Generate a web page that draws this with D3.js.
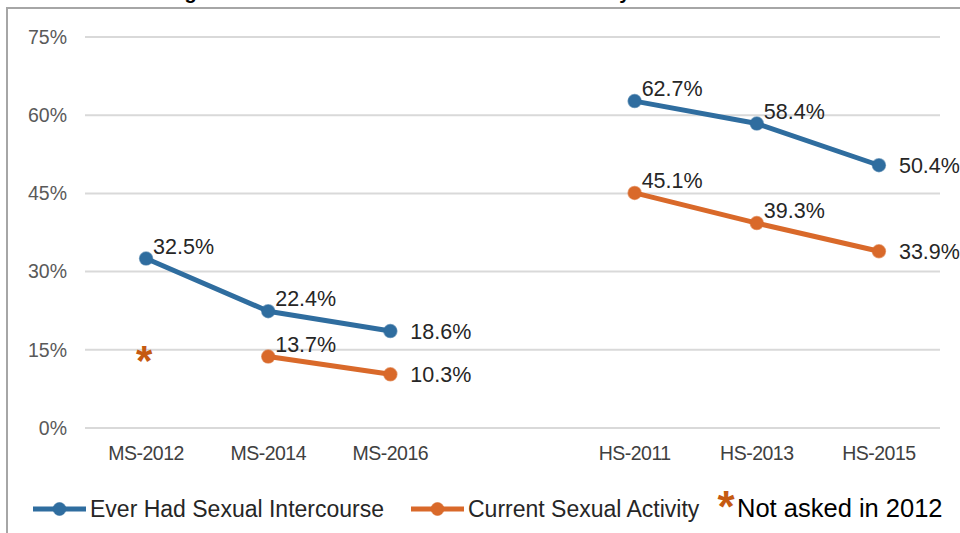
<!DOCTYPE html>
<html lang="en">
<head>
  <meta charset="utf-8">
  <title>Sexual intercourse and activity</title>
  <script src="https://d3js.org/d3.v7.min.js"></script>
  <style>
  body { margin: 0; background: #fff; }
  text { font-family: "Liberation Sans", Arial, sans-serif; }
  </style>
</head>
<body>
<script>
  var width = 960;
  var height = 533;

  // data
  var categories = ["MS-2012", "MS-2014", "MS-2016", "", "HS-2011", "HS-2013", "HS-2015"];
  var everHad = [32.5, 22.4, 18.6, null, 62.7, 58.4, 50.4];
  var current = [null, 13.7, 10.3, null, 45.1, 39.3, 33.9];
  var yTicks = [0, 15, 30, 45, 60, 75];
  var seriesNames = ["Ever Had Sexual Intercourse", "Current Sexual Activity"];
  var noteText = "Not asked in 2012";
  var titleText = "Percentage of Students Who Had Sex and Are Currently Active";

  var blue = "#2f6d9f";
  var orange = "#d9692a";

  var svg = d3.select("body")
    .append("svg")
    .attr("width", width)
    .attr("height", height);

  // title, mostly cut off above the frame as in the source image
  svg.append("text")
    .attr("x", 100)
    .attr("y", -1)
    .style("font-size", "20px")
    .style("font-weight", "bold")
    .attr("fill", "#000")
    .text(titleText);

  // frame
  svg.append("path")
    .attr("d", "M7,533V8H960")
    .attr("fill", "none")
    .attr("stroke", "#a6a6a6")
    .attr("stroke-width", 2);

  var x = d3.scaleBand()
    .domain(categories)
    .range([85, 940]);

  var y = d3.scaleLinear()
    .domain([0, 75])
    .range([428, 37]);

  // gridlines
  svg.append("g")
    .selectAll("line")
    .data(yTicks)
    .enter().append("line")
      .attr("x1", 85)
      .attr("x2", 940)
      .attr("y1", function(d) { return y(d); })
      .attr("y2", function(d) { return y(d); })
      .attr("stroke", "#d9d9d9")
      .attr("stroke-width", 2);

  // y labels
  svg.append("g")
    .selectAll("text")
    .data(yTicks)
    .enter().append("text")
      .attr("x", 67)
      .attr("y", function(d) { return y(d); })
      .attr("dy", "0.35em")
      .attr("text-anchor", "end")
      .attr("fill", "#595959")
      .style("font-size", "19.5px")
      .text(function(d) { return d + "%"; });

  // x labels
  svg.append("g")
    .selectAll("text")
    .data(categories)
    .enter().append("text")
      .attr("x", function(d) { return x(d) + x.bandwidth() / 2; })
      .attr("y", 453)
      .attr("dy", "0.35em")
      .attr("text-anchor", "middle")
      .attr("fill", "#404040")
      .style("font-size", "19.5px")
      .style("letter-spacing", "-0.5px")
      .text(function(d) { return d; });

  var cx = function(i) { return x(categories[i]) + x.bandwidth() / 2; };

  var line = d3.line()
    .defined(function(d) { return d != null; })
    .x(function(d, i) { return cx(i); })
    .y(function(d) { return y(d); });

  function drawSeries(values, color) {
    var g = svg.append("g");
    g.append("path")
      .datum(values)
      .attr("d", line)
      .attr("fill", "none")
      .attr("stroke", color)
      .attr("stroke-width", 5)
      .attr("stroke-linejoin", "round");

    var pts = values.map(function(v, i) { return {v: v, i: i}; })
      .filter(function(d) { return d.v != null; });

    g.selectAll("circle")
      .data(pts)
      .enter().append("circle")
        .attr("cx", function(d) { return cx(d.i); })
        .attr("cy", function(d) { return y(d.v); })
        .attr("r", 6.5)
        .attr("fill", color)
        .attr("stroke", color)
        .attr("stroke-opacity", 0.6)
        .attr("stroke-width", 1.5);

    // last point of each run gets its label on the right, others above-right
    g.selectAll("text")
      .data(pts)
      .enter().append("text")
        .each(function(d) {
          var last = values[d.i + 1] == null;
          d3.select(this)
            .attr("x", cx(d.i) + (last ? 20 : 7))
            .attr("y", y(d.v) + (last ? 8 : -5));
        })
        .attr("fill", "#262626")
        .style("font-size", "21.5px")
        .text(function(d) { return d.v.toFixed(1) + "%"; });
  }

  drawSeries(everHad, blue);
  drawSeries(current, orange);

  // asterisk for missing 2012 value
  svg.append("text")
    .attr("x", cx(0) - 2)
    .attr("y", y(15) + 25)
    .attr("text-anchor", "middle")
    .attr("fill", "#c55a11")
    .style("font-size", "42px")
    .style("font-weight", "bold")
    .text("*");

  // legend
  var legend = svg.append("g").attr("transform", "translate(0,509)");
  var legendX = [33, 411];
  [blue, orange].forEach(function(c, i) {
    var lg = legend.append("g").attr("transform", "translate(" + legendX[i] + ",0)");
    lg.append("line")
      .attr("x1", 0).attr("x2", 53)
      .attr("stroke", c).attr("stroke-width", 5);
    lg.append("circle")
      .attr("cx", 26.5).attr("r", 6.5)
      .attr("fill", c).attr("stroke", c).attr("stroke-opacity", 0.6);
    lg.append("text")
      .attr("x", 57)
      .attr("dy", "0.35em")
      .attr("fill", "#262626")
      .style("font-size", "23px")
      .text(seriesNames[i]);
  });

  legend.append("text")
    .attr("x", 726)
    .attr("y", 13)
    .attr("text-anchor", "middle")
    .attr("fill", "#c55a11")
    .style("font-size", "44px")
    .style("font-weight", "bold")
    .text("*");
  legend.append("text")
    .attr("x", 737)
    .attr("dy", "0.3em")
    .attr("fill", "#000")
    .style("font-size", "25.5px")
    .text(noteText);
</script>
</body>
</html>
